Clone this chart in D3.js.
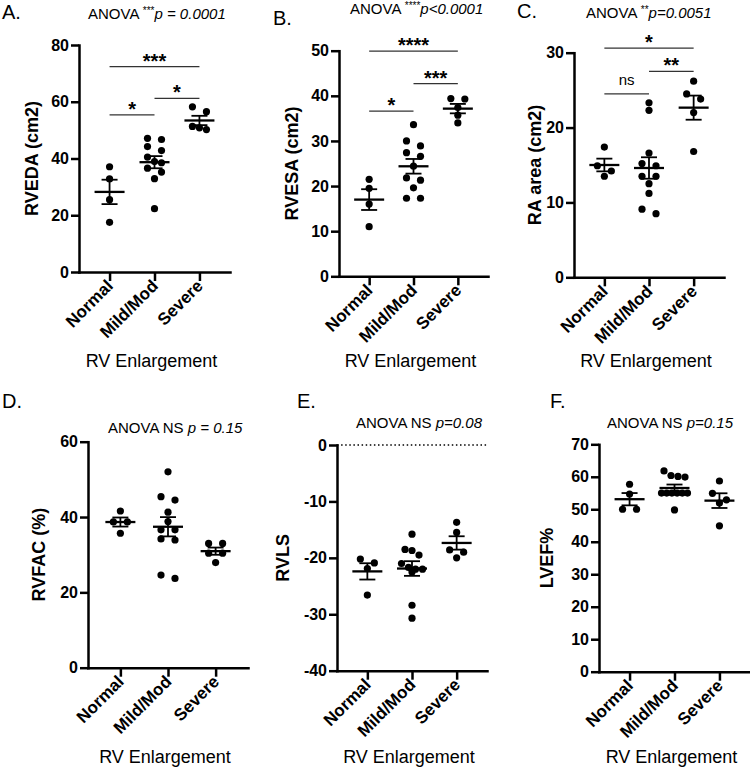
<!DOCTYPE html>
<html><head><meta charset="utf-8">
<script src="https://cdn.jsdelivr.net/npm/d3@7"></script>
<style>
body{margin:0;background:#fff}
svg{display:block}
text{font-family:Arial,"Liberation Sans",Helvetica,sans-serif;fill:#000}
</style>
</head><body>
<svg id="c" width="750" height="772"></svg>
<script>
// ---------------- DATA ----------------
const categories = ["Normal", "Mild/Mod", "Severe"];

const rvedaNormal = [37.1, 32.8, 25.5, 17.5];
const rvedaMild   = [47.1, 46.7, 44.2, 42.8, 40.5, 38.9, 38.5, 36.6, 35.2, 32.9, 22.3];
const rvedaSevere = [58.2, 56.5, 51.3, 50.8, 50.2];

const rvesaNormal = [21.5, 19.5, 16.0, 11.0];
const rvesaMild   = [33.6, 30.0, 28.9, 27.4, 26.6, 24.4, 21.8, 21.3, 19.6, 17.3, 17.3];
const rvesaSevere = [39.4, 39.3, 37.4, 35.7, 34.0];

const raNormal = [17.4, 14.9, 14.2, 13.5];
const raMild   = [23.3, 22.3, 16.6, 15.2, 14.9, 13.5, 13.5, 12.5, 11.2, 9.1, 8.5];
const raSevere = [26.2, 24.5, 23.8, 22.0, 16.8];

const rvfacNormal = [41.6, 38.7, 38.7, 35.7];
const rvfacMild   = [52.0, 45.4, 44.5, 41.3, 38.8, 36.6, 36.6, 34.2, 33.9, 24.6, 23.7];
const rvfacSevere = [33.0, 33.0, 30.4, 30.4, 27.9];

const rvlsNormal = [-20.2, -20.9, -21.9, -26.6];
const rvlsMild   = [-15.8, -18.5, -18.7, -19.5, -21.0, -21.7, -22.0, -22.0, -22.5, -28.4, -30.7];
const rvlsSevere = [-13.7, -15.5, -18.6, -19.0, -20.0];

const lvefNormal = [57.7, 54.7, 50.0, 50.0];
const lvefMild   = [61.8, 60.4, 60.1, 59.9, 55.0, 55.0, 55.0, 55.0, 55.0, 55.0, 49.8];
const lvefSevere = [58.7, 54.9, 52.9, 51.9, 44.9];

const ticksA = [0, 20, 40, 60, 80];
const ticksB = [0, 10, 20, 30, 40, 50];
const ticksC = [0, 10, 20, 30];
const ticksD = [0, 20, 40, 60];
const ticksE = [-40, -30, -20, -10, 0];
const ticksF = [0, 10, 20, 30, 40, 50, 60, 70];

// ANOVA captions: [plain, superscript stars, italic p]
const anovaA = ["ANOVA ", "***", "p = 0.0001"];
const anovaB = ["ANOVA ", "****", "p<0.0001"];
const anovaC = ["ANOVA ", "**", "p=0.0051"];
const anovaD = ["ANOVA NS ", "", "p = 0.15"];
const anovaE = ["ANOVA NS ", "", "p=0.08"];
const anovaF = ["ANOVA NS ", "", "p=0.15"];

// pairwise comparisons: [fromIndex, toIndex, level (data units), label]
const sigA = [[0, 2, 72.4, "***"], [0, 1, 55.4, "*"], [1, 2, 61.2, "*"]];
const sigB = [[0, 2, 49.9, "****"], [0, 1, 36.6, "*"], [1, 2, 42.7, "***"]];
const sigC = [[0, 2, 30.6, "*"], [0, 1, 24.5, "ns"], [1, 2, 27.5, "**"]];

// ---------------- PANELS ----------------
const panels = [
  {letter:"A.", title:"RVEDA (cm2)", groups:[rvedaNormal, rvedaMild, rvedaSevere], domain:[0,80], ticks:ticksA, anova:anovaA, sig:sigA,
   L:{x0:79, x1:230, yTop:45, yBot:272, titleX:32, letterX:2, letterY:19, anovaX:88, anovaY:19, xlabY:367}},
  {letter:"B.", title:"RVESA (cm2)", groups:[rvesaNormal, rvesaMild, rvesaSevere], domain:[0,50], ticks:ticksB, anova:anovaB, sig:sigB,
   L:{x0:339, x1:488, yTop:50.7, yBot:276.3, titleX:292, letterX:273, letterY:25, anovaX:350, anovaY:14, xlabY:367}},
  {letter:"C.", title:"RA area (cm2)", groups:[raNormal, raMild, raSevere], domain:[0,30], ticks:ticksC, anova:anovaC, sig:sigC,
   L:{x0:574, x1:724, yTop:52.7, yBot:277.3, titleX:535, letterX:517, letterY:18, anovaX:586, anovaY:18, xlabY:367}},
  {letter:"D.", title:"RVFAC (%)", groups:[rvfacNormal, rvfacMild, rvfacSevere], domain:[0,60], ticks:ticksD, anova:anovaD, sig:[],
   L:{x0:88, x1:248, yTop:441.7, yBot:667.7, titleX:39, letterX:2, letterY:408, anovaX:108, anovaY:433, xlabY:763}},
  {letter:"E.", title:"RVLS", groups:[rvlsNormal, rvlsMild, rvlsSevere], domain:[-40,0], ticks:ticksE, anova:anovaE, sig:[], zeroLine:true,
   L:{x0:337, x1:487, yTop:445, yBot:670.7, titleX:283, letterX:297, letterY:408, anovaX:356, anovaY:428, xlabY:763}},
  {letter:"F.", title:"LVEF%", groups:[lvefNormal, lvefMild, lvefSevere], domain:[0,70], ticks:ticksF, anova:anovaF, sig:[],
   L:{x0:599, x1:750, yTop:444.3, yBot:671.7, titleX:547, letterX:550, letterY:408, anovaX:607, anovaY:428, xlabY:763}}
];

// ---------------- DRAW ----------------
const svg = d3.select("#c");
const R = 3.6;

function swarm(values, y) {
  // GraphPad-like row layout
  const pts = values.map(v => ({v, py: y(v)})).sort((a, b) => a.py - b.py);
  const rows = [];
  pts.forEach(p => {
    const last = rows[rows.length - 1];
    if (last && p.py - last[0].py < 6.5) last.push(p); else rows.push([p]);
  });
  const out = [];
  rows.forEach(row => {
    const n = row.length;
    if (n === 1) { row[0].dx = 0; }
    else if (n === 2) { row[0].dx = -7; row[1].dx = 7; }
    else {
      const step = Math.min(7, 26 / (n - 1));
      row.forEach((p, i) => p.dx = (i - (n - 1) / 2) * step);
    }
    row.forEach(p => out.push(p));
  });
  return out;
}

panels.forEach(p => {
  const L = p.L;
  const g = svg.append("g");
  const x = d3.scalePoint().domain(categories).range([L.x0, L.x1]).padding(0.68);
  const y = d3.scaleLinear().domain(p.domain).range([L.yBot, L.yTop]);

  if (p.zeroLine) {
    g.append("line").attr("x1", L.x0).attr("x2", L.x1).attr("y1", y(0)).attr("y2", y(0))
      .attr("stroke", "#000").attr("stroke-width", 1.6).attr("stroke-dasharray", "1.5,2.6");
  }

  const ya = g.append("g").attr("transform", `translate(${L.x0},0)`)
    .call(d3.axisLeft(y).tickValues(p.ticks).tickSize(8).tickSizeOuter(0).tickPadding(2).tickFormat(d => String(d)));
  const xa = g.append("g").attr("transform", `translate(0,${L.yBot})`)
    .call(d3.axisBottom(x).tickSize(9).tickSizeOuter(0));
  [ya, xa].forEach(a => {
    a.select(".domain").attr("stroke", "#000").attr("stroke-width", 2.5).attr("stroke-linecap", "square");
    a.selectAll(".tick line").attr("stroke", "#000").attr("stroke-width", 2.5);
    a.selectAll("text").attr("fill", "#000").style("font-size", "16px").style("font-weight", "bold");
  });
  xa.selectAll(".tick text").attr("text-anchor", "end").attr("dy", null).attr("x", 0).attr("y", 0)
    .attr("transform", "translate(4,15) rotate(-45)").style("font-size", "17px");

  g.append("text").attr("transform", `translate(${L.titleX},${(L.yTop + L.yBot) / 2}) rotate(-90)`)
    .attr("text-anchor", "middle").attr("dy", "0.36em").style("font-size", "18px").style("font-weight", "bold")
    .text(p.title);

  g.append("text").attr("x", x(categories[1]) - 3).attr("y", L.xlabY).attr("text-anchor", "middle")
    .style("font-size", "18px").text("RV Enlargement");

  g.append("text").attr("x", L.letterX).attr("y", L.letterY).style("font-size", "20px").text(p.letter);

  const at = g.append("text").attr("x", L.anovaX).attr("y", L.anovaY).style("font-size", "15px");
  at.append("tspan").text(p.anova[0]);
  if (p.anova[1]) {
    at.append("tspan").attr("dy", -5).style("font-size", "10px").text(p.anova[1]);
    at.append("tspan").attr("dy", 5).style("font-style", "italic").text(p.anova[2]);
  } else {
    at.append("tspan").style("font-style", "italic").text(p.anova[2]);
  }

  p.groups.forEach((vals, i) => {
    const cx = x(categories[i]);
    const pts = swarm(vals, y);
    g.append("g").selectAll("circle").data(pts).join("circle")
      .attr("cx", d => cx + d.dx).attr("cy", d => d.py).attr("r", R).attr("fill", "#000");
    const m = d3.mean(vals);
    const se = d3.deviation(vals) / Math.sqrt(vals.length);
    const eb = g.append("g").attr("stroke", "#000");
    eb.append("line").attr("x1", cx - 15).attr("x2", cx + 15).attr("y1", y(m)).attr("y2", y(m)).attr("stroke-width", 2.3);
    eb.append("line").attr("x1", cx).attr("x2", cx).attr("y1", y(m + se)).attr("y2", y(m - se)).attr("stroke-width", 1.8);
    [m + se, m - se].forEach(v => eb.append("line").attr("x1", cx - 8).attr("x2", cx + 8)
      .attr("y1", y(v)).attr("y2", y(v)).attr("stroke-width", 1.8));
  });

  p.sig.forEach(s => {
    const xa1 = x(categories[s[0]]), xb = x(categories[s[1]]), yy = y(s[2]);
    g.append("line").attr("x1", xa1).attr("x2", xb).attr("y1", yy).attr("y2", yy)
      .attr("stroke", "#333").attr("stroke-width", 1.3);
    const isNs = s[3] === "ns";
    g.append("text").attr("x", (xa1 + xb) / 2).attr("y", isNs ? yy - 9 : yy + 1).attr("text-anchor", "middle")
      .style("font-size", isNs ? "15px" : "20px").style("font-weight", isNs ? "normal" : "bold").text(s[3]);
  });
});
</script>
</body></html>
